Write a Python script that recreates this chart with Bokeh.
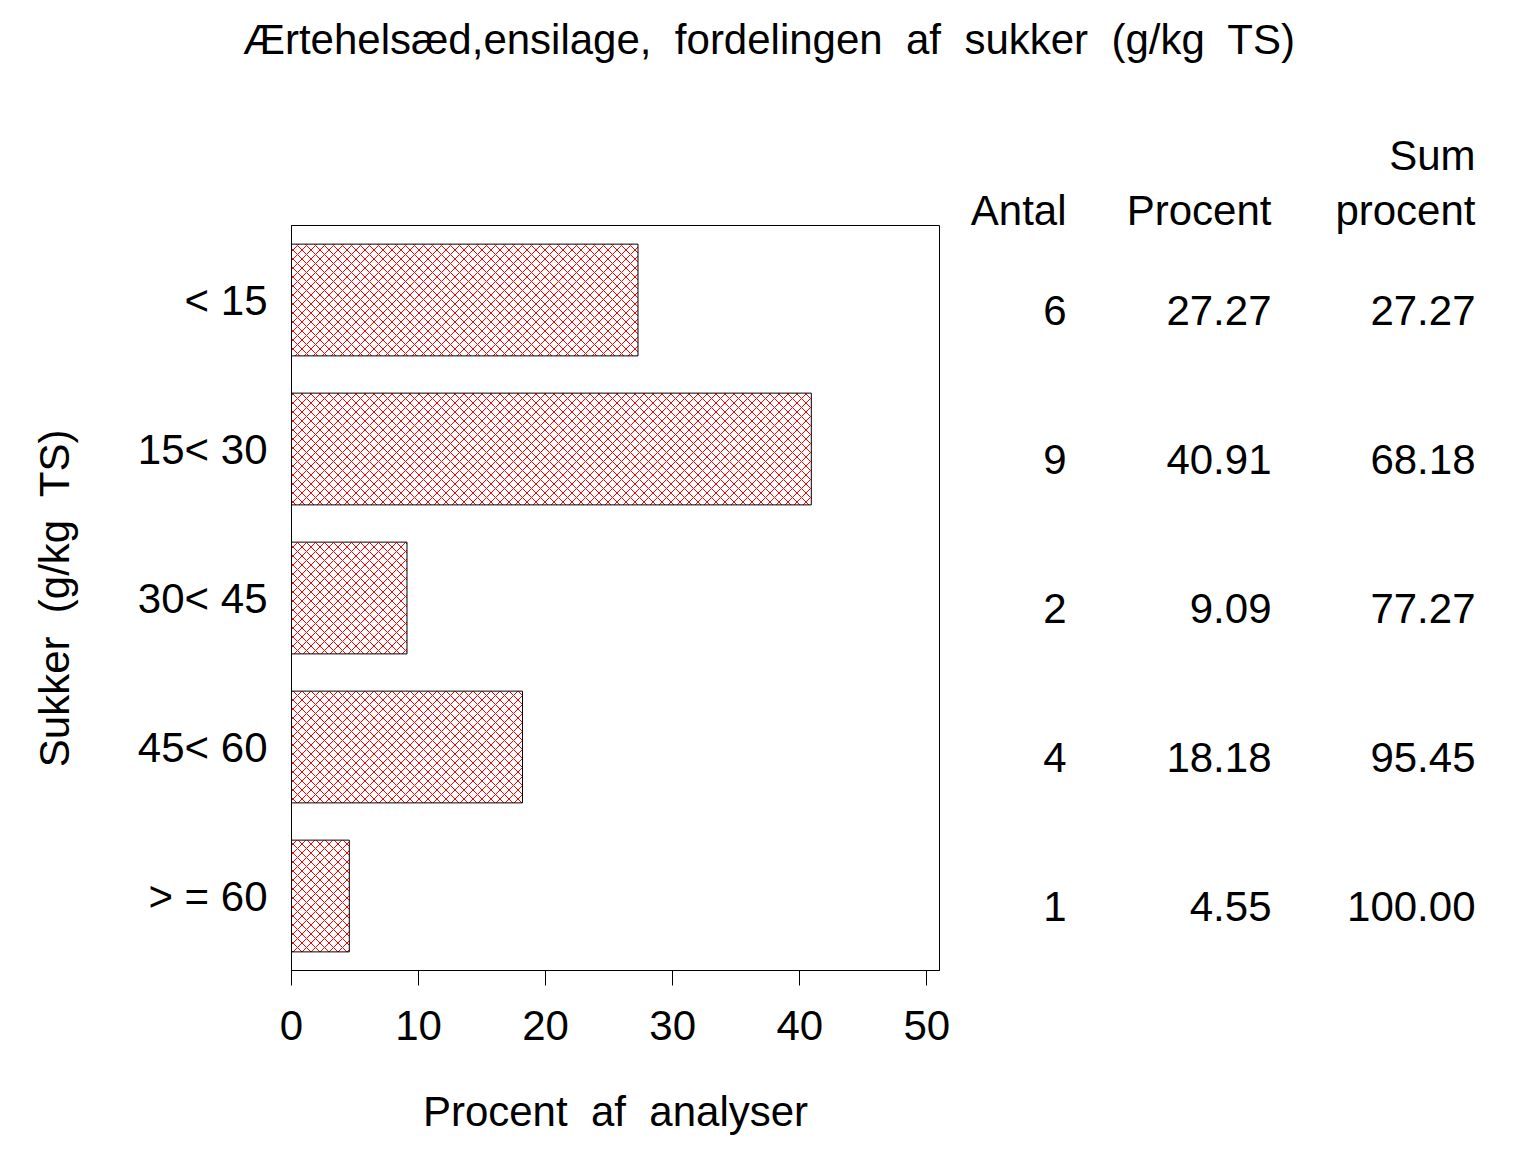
from bokeh.plotting import figure
from bokeh.models import Range1d, FactorRange, ColumnDataSource, Div
from bokeh.layouts import row, column
from bokeh.embed import file_html
from bokeh.resources import INLINE
from bokeh.core.properties import value

# ---------------- data ----------------
title_text = "Ærtehelsæd,ensilage,\u00a0 fordelingen\u00a0 af\u00a0 sukker\u00a0 (g/kg\u00a0 TS)"
categories = ["< 15", "15< 30", "30< 45", "45< 60", "> = 60"]
antal = [6, 9, 2, 4, 1]
procent = [27.27, 40.91, 9.09, 18.18, 4.55]
sum_procent = [27.27, 68.18, 77.27, 95.45, 100.00]
x_ticks = [0, 10, 20, 30, 40, 50]
col_headers = ["Antal", "Procent", "Sum\nprocent"]
x_label = "Procent\u00a0 af\u00a0 analyser"
y_label = "Sukker\u00a0 (g/kg\u00a0 TS)"

FONT = "Liberation Sans"
FS = "42px"

# ---------------- layout constants ----------------
DIV_H = 100
FIG_H = 1032
TOP = 115
FRAME_H = 745
BOTTOM = FIG_H - TOP - FRAME_H
W1 = 959
W2 = 569
FIG_TOP_PAGE = 110   # page y of the figures' top edge

# ---------------- bar chart ----------------
src = ColumnDataSource(dict(cat=categories, pct=procent))
p = figure(width=W1, height=FIG_H, output_backend="svg", toolbar_location=None,
           x_range=Range1d(0, 51), y_range=FactorRange(*reversed(categories), range_padding=0),
           min_border_left=291, min_border_right=20, min_border_top=TOP, min_border_bottom=BOTTOM)
p.hbar(y="cat", right="pct", left=0, height=0.75, source=src,
       fill_color="white", line_color="black", line_width=1,
       hatch_pattern="diagonal_cross", hatch_color="red", hatch_scale=9, hatch_weight=1)

p.xgrid.visible = False
p.ygrid.visible = False
p.outline_line_color = "black"
p.outline_line_width = 1
p.background_fill_color = "white"
p.border_fill_color = "white"

p.xaxis.ticker = x_ticks
p.xaxis.minor_tick_line_color = None
p.xaxis.major_tick_out = 15
p.xaxis.major_tick_in = 0
p.xaxis.major_tick_line_color = "black"
p.xaxis.axis_line_color = "black"
p.xaxis.major_label_text_font = FONT
p.xaxis.major_label_text_font_size = FS
p.xaxis.major_label_text_color = "black"
p.xaxis.major_label_standoff = 25
p.xaxis.axis_label = x_label
p.xaxis.axis_label_text_font = FONT
p.xaxis.axis_label_text_font_size = FS
p.xaxis.axis_label_text_font_style = "normal"
p.xaxis.axis_label_text_color = "black"
p.xaxis.axis_label_standoff = 45

p.yaxis.major_tick_out = 0
p.yaxis.major_tick_in = 0
p.yaxis.minor_tick_line_color = None
p.yaxis.axis_line_color = "black"
p.yaxis.major_label_text_font = FONT
p.yaxis.major_label_text_font_size = FS
p.yaxis.major_label_text_color = "black"
p.yaxis.major_label_standoff = 24
p.yaxis.axis_label = y_label
p.yaxis.axis_label_text_font = FONT
p.yaxis.axis_label_text_font_size = FS
p.yaxis.axis_label_text_font_style = "normal"
p.yaxis.axis_label_text_color = "black"
p.yaxis.axis_label_standoff = 57

# ---------------- table (own frame covering the whole figure) ----------------
n = len(categories)
unit = FRAME_H / n
t = figure(width=W2, height=FIG_H, output_backend="svg", toolbar_location=None,
           x_range=Range1d(0, W2), y_range=Range1d(-BOTTOM / unit, n + TOP / unit),
           min_border_left=0, min_border_right=0, min_border_top=0, min_border_bottom=0,
           frame_align=False)
t.axis.visible = False
t.grid.visible = False
t.outline_line_color = None
t.background_fill_color = "white"
t.border_fill_color = "white"

col_x = [107, 312, 516]
rows_y = [n - 0.5 - i for i in range(n)]
txt_kw = dict(text_font=value(FONT), text_font_size=value(FS), text_color="black",
              text_align="right", text_baseline="middle")
for cx, vals in zip(col_x, [[str(a) for a in antal],
                            [f"{v:.2f}" for v in procent],
                            [f"{v:.2f}" for v in sum_procent]]):
    t.text(x=[cx] * len(vals), y=rows_y, text=vals, y_offset=10, **txt_kw)

frame_bottom_page = FIG_TOP_PAGE + TOP + FRAME_H
hdr_y_low = (frame_bottom_page - 210) / unit
hdr_y_high = (frame_bottom_page - 155) / unit
for cx, h in zip(col_x, col_headers):
    parts = h.split("\n")
    ys = [hdr_y_low] if len(parts) == 1 else [hdr_y_high, hdr_y_low]
    t.text(x=[cx] * len(parts), y=ys, text=parts, **txt_kw)

# ---------------- title ----------------
title = Div(text=title_text, width=W1 + W2, height=DIV_H,
            styles={"font-family": FONT, "font-size": FS, "text-align": "center",
                    "white-space": "pre", "line-height": "70px", "color": "black",
                    "width": f"{W1 + W2}px"})

layout = column(title, row(p, t))
open("out.html", "w").write(file_html(layout, INLINE))
